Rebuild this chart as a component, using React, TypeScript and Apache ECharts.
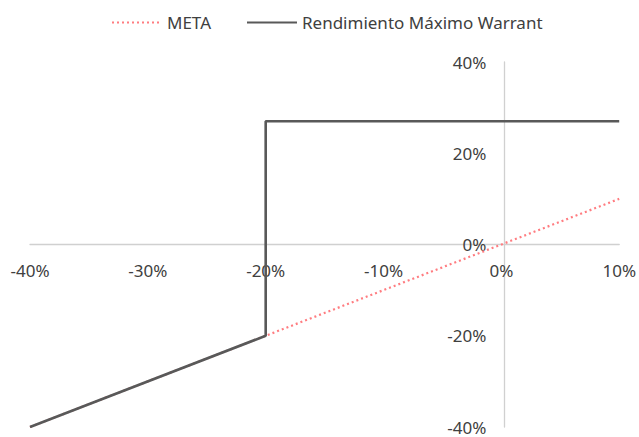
import React, { useEffect, useRef } from "react";
import * as echarts from "echarts";

const metaPoints: [number, number][] = [
  [-40, -40],
  [10, 10],
];
const warrantPoints: [number, number][] = [
  [-40, -40],
  [-20, -20],
  [-20, 27],
  [10, 27],
];
const seriesNames = ["META", "Rendimiento Máximo Warrant"];
const xRange = { min: -40, max: 10, interval: 10 };
const yRange = { min: -40, max: 40, interval: 20 };

export default function App() {
  const ref = useRef<HTMLDivElement>(null);
  useEffect(() => {
    if (!ref.current) return;
    const chart = echarts.init(ref.current, null, { renderer: "svg" });
    const font = "Noto Sans";
    const W = 639, H = 437;
    const grid = { left: 30, right: 16, top: 62, bottom: 10 };
    const gw = W - grid.left - grid.right;
    const gh = H - grid.top - grid.bottom;
    // place axes (with their labels) on the zero lines
    const xOffset = -gh * (0 - yRange.min) / (yRange.max - yRange.min);
    const yOffset = -gw * (0 - xRange.min) / (xRange.max - xRange.min);
    chart.setOption({
      animation: false,
      textStyle: { fontFamily: font },
      legend: {
        top: 9,
        left: 106,
        itemWidth: 50,
        itemHeight: 10,
        itemGap: 35,
        itemStyle: { opacity: 0 },
        textStyle: { fontSize: 17, color: "#404040", fontFamily: font },
        data: seriesNames,
      },
      grid: { ...grid, containLabel: false },
      xAxis: {
        type: "value",
        ...xRange,
        offset: xOffset,
        axisLine: { onZero: false, lineStyle: { color: "#d0d0d0", width: 1.3 } },
        axisTick: { show: false },
        splitLine: { show: false },
        axisLabel: {
          formatter: (v: number) => v + "%",
          fontSize: 17,
          color: "#404040",
          margin: 17,
          fontFamily: font,
        },
      },
      yAxis: {
        type: "value",
        ...yRange,
        offset: yOffset,
        axisLine: { onZero: false, lineStyle: { color: "#d0d0d0", width: 1.3 } },
        axisTick: { show: false },
        splitLine: { show: false },
        axisLabel: {
          formatter: (v: number) => v + "%",
          fontSize: 17,
          color: "#404040",
          margin: 18,
          fontFamily: font,
        },
      },
      series: [
        {
          name: seriesNames[0],
          type: "line",
          data: metaPoints,
          symbol: "none",
          lineStyle: { color: "#ff7c80", width: 2.2, type: [2, 3] },
          itemStyle: { color: "#ff7c80" },
          z: 2,
        },
        {
          name: seriesNames[1],
          type: "line",
          data: warrantPoints,
          symbol: "none",
          lineStyle: { color: "#595959", width: 2.6 },
          itemStyle: { color: "#595959" },
          z: 3,
        },
      ],
    });
    return () => chart.dispose();
  }, []);
  return <div ref={ref} style={{ width: 639, height: 437, position: "absolute", left: 0, top: 0 }} />;
}
